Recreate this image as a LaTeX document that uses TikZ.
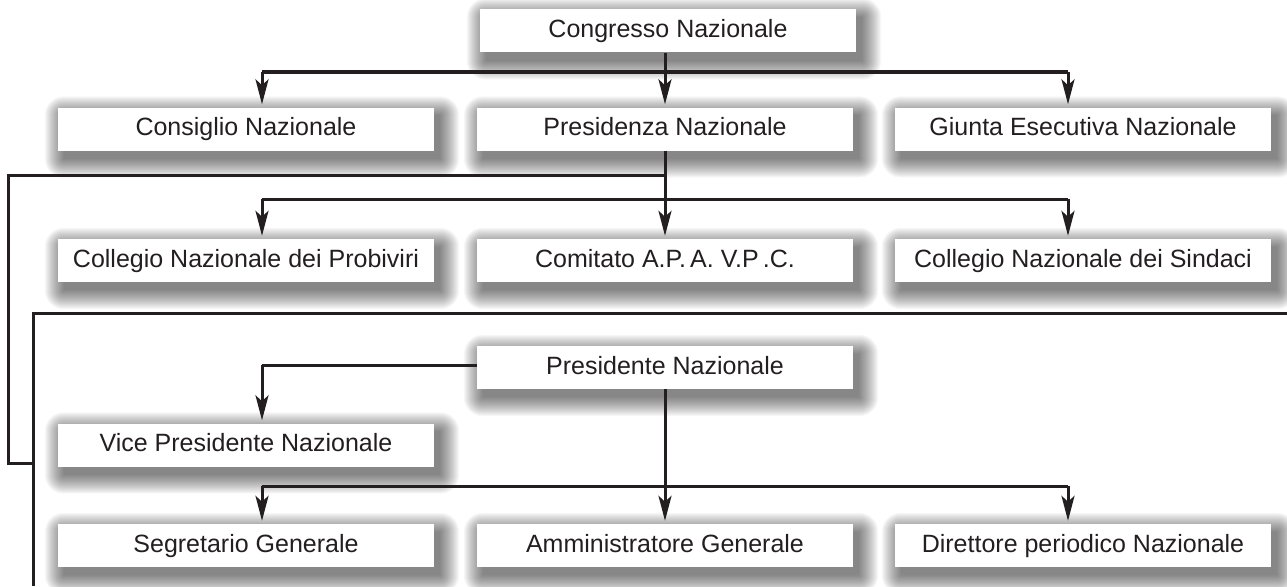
\documentclass[tikz,border=0pt]{standalone}
\usepackage{fontspec}
\setmainfont{Liberation Sans}
\usetikzlibrary{arrows.meta,backgrounds,calc}
\definecolor{ink}{HTML}{231F20}
\tikzset{
  box/.style={draw=none, fill=white, minimum width=376pt, minimum height=43pt, inner sep=0pt,
    text height=18pt, text depth=5pt,
    font=\fontsize{25}{28}\selectfont, text=ink},
  shadelayer/.style={fill=black, opacity=0.03},
  conn/.style={draw=ink, line width=3pt},
  arr/.style={conn, -{Stealth[length=25pt, width=13pt, inset=6pt]}, shorten >=3pt}
}
\begin{document}
\begin{tikzpicture}[x=1pt, y=-1pt]
\useasboundingbox (0,0) rectangle (1287,586);
% nodes
\node[box] (cn) at (668,31) {Congresso Nazionale};
\node[box] (cons) at (246,129) {Consiglio Nazionale};
\node[box] (pz) at (665,129) {Presidenza Nazionale};
\node[box] (giu) at (1083,129) {Giunta Esecutiva Nazionale};
\node[box] (prob) at (246,260.5) {Collegio Nazionale dei Probiviri};
\node[box] (apa) at (665,260.5) {Comitato A.P.\,A. V.P\,.C.};
\node[box] (sind) at (1083,260.5) {Collegio Nazionale dei Sindaci};
\node[box] (pres) at (665,367.5) {Presidente Nazionale};
\node[box] (vice) at (246,445) {Vice Presidente Nazionale};
\node[box] (seg) at (246,545.5) {Segretario Generale};
\node[box] (amm) at (665,545.5) {Amministratore Generale};
\node[box] (dir) at (1083,545.5) {Direttore periodico Nazionale};
% soft shadows
\begin{pgfonlayer}{background}
\foreach \n in {cn,cons,pz,giu,prob,apa,sind,pres,vice,seg,amm,dir}{
  \foreach \s in {0,1,...,19}{
    \fill[shadelayer, rounded corners=\s pt]
      ($(\n.north west)+(6-\s,8-\s)$) rectangle ($(\n.south east)+(6+\s,8+\s)$);
  }
}
\end{pgfonlayer}
% coordinates
\coordinate (a1) at (262,72);
\coordinate (a2) at (1068,72);
\coordinate (c1) at (262,199);
\coordinate (c2) at (1068,199);
\coordinate (br) at (665,175);
\coordinate (o1) at (8,175);
\coordinate (o2) at (8,463);
\coordinate (l1) at (33,313);
\coordinate (l2) at (1287,313);
\coordinate (l3) at (33,586);
\coordinate (v1) at (262,365);
\coordinate (e1) at (262,486);
\coordinate (e2) at (1068,486);
% connectors
\draw[arr] (cn.south -| pz.north) -- (pz.north);
\draw[conn] (a1) -- (a2);
\draw[arr] (a1) -- (a1 |- cons.north);
\draw[arr] (a2) -- (a2 |- giu.north);
\draw[arr] (pz.south) -- (apa.north);
\draw[conn] (c1) -- (c2);
\draw[arr] (c1) -- (c1 |- prob.north);
\draw[arr] (c2) -- (c2 |- sind.north);
\draw[conn] (br) -- (o1) -- (o2) -- (o2 -| l1);
\draw[conn] (l2) -- (l1) -- (l3);
\draw[conn] (pres.west |- v1) -- (v1);
\draw[arr] (v1) -- (v1 |- vice.north);
\draw[arr] (pres.south) -- (amm.north);
\draw[conn] (e1) -- (e2);
\draw[arr] (e1) -- (e1 |- seg.north);
\draw[arr] (e2) -- (e2 |- dir.north);
\end{tikzpicture}
\end{document}
